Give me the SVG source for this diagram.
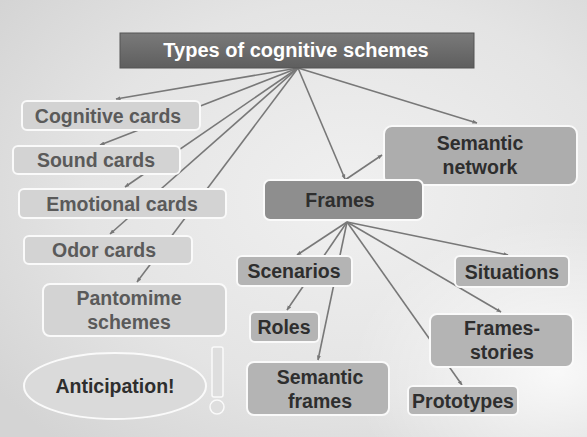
<svg xmlns="http://www.w3.org/2000/svg" width="587" height="437" viewBox="0 0 587 437">
<defs>
<radialGradient id="bg" cx="0.6" cy="0.45" r="0.75">
<stop offset="0" stop-color="#f0f0f0"/>
<stop offset="0.6" stop-color="#e4e4e4"/>
<stop offset="1" stop-color="#d4d4d4"/>
</radialGradient>
<radialGradient id="glow" cx="0.95" cy="0.85" r="0.35">
<stop offset="0" stop-color="#ffffff" stop-opacity="0.8"/>
<stop offset="1" stop-color="#ffffff" stop-opacity="0"/>
</radialGradient>
<linearGradient id="title" x1="0" y1="0" x2="0" y2="1">
<stop offset="0" stop-color="#7a7a7a"/>
<stop offset="1" stop-color="#5e5e5e"/>
</linearGradient>
<marker id="ah" viewBox="0 0 10 10" refX="9" refY="5" markerWidth="5" markerHeight="5" orient="auto" markerUnits="userSpaceOnUse">
<path d="M0,1 L10,5 L0,9 z" fill="#777"/>
</marker>
</defs>
<style>
.lt{font-family:"Liberation Sans",Arial,sans-serif;font-weight:bold;font-size:19.5px;fill:#5a5a5a;text-anchor:middle}
.dk{font-family:"Liberation Sans",Arial,sans-serif;font-weight:bold;font-size:19.5px;fill:#2e2e2e;text-anchor:middle}
.lb{fill:#d3d3d3;stroke:#fafafa;stroke-width:2}
.mb{fill:#b4b4b4;stroke:#fafafa;stroke-width:2}
.cn line{stroke:#787878;stroke-width:1.6;marker-end:url(#ah)}
</style>
<rect width="587" height="437" fill="url(#bg)"/>
<rect width="587" height="437" fill="url(#glow)"/>

<g class="cn" id="connectors">
<line x1="298" y1="68" x2="116" y2="99"/>
<line x1="298" y1="68" x2="100" y2="145"/>
<line x1="298" y1="68" x2="125" y2="187"/>
<line x1="298" y1="68" x2="110" y2="234"/>
<line x1="298" y1="68" x2="137" y2="282"/>
<line x1="298" y1="68" x2="345" y2="179"/>
<line x1="298" y1="68" x2="477" y2="123"/>
<line x1="345" y1="180" x2="382" y2="155"/>
<line x1="347" y1="222" x2="297" y2="255"/>
<line x1="347" y1="222" x2="287" y2="310"/>
<line x1="347" y1="222" x2="318" y2="360"/>
<line x1="347" y1="222" x2="508" y2="255"/>
<line x1="347" y1="222" x2="501" y2="312"/>
<line x1="347" y1="222" x2="462" y2="385"/>
</g>

<g id="title-node">
<rect x="120" y="33" width="354" height="35" fill="url(#title)" stroke="#555" stroke-width="1"/>
<text x="296" y="57" class="lt" style="fill:#ffffff;font-size:20px">Types of cognitive schemes</text>
</g>

<g id="cognitive-cards">
<rect x="22" y="101" width="178" height="29" rx="5" class="lb"/>
<text x="108" y="123" class="lt">Cognitive cards</text>
</g>
<g id="sound-cards">
<rect x="13" y="146" width="167" height="28" rx="5" class="lb"/>
<text x="96" y="167" class="lt">Sound cards</text>
</g>
<g id="emotional-cards">
<rect x="19" y="189" width="207" height="29" rx="5" class="lb"/>
<text x="122" y="211" class="lt">Emotional cards</text>
</g>
<g id="odor-cards">
<rect x="24" y="236" width="168" height="28" rx="5" class="lb"/>
<text x="104" y="257" class="lt">Odor cards</text>
</g>
<g id="pantomime-schemes">
<rect x="43" y="284" width="183" height="52" rx="7" class="lb"/>
<text x="129" y="305" class="lt">Pantomime</text>
<text x="129" y="329" class="lt">schemes</text>
</g>
<g id="anticipation">
<ellipse cx="115" cy="386" rx="91" ry="33" fill="#dadada" stroke="#fafafa" stroke-width="2"/>
<text x="115" y="393" class="dk">Anticipation!</text>
</g>
<g id="exclamation">
<rect x="212" y="347" width="11" height="50" rx="2" fill="#dedede" stroke="#fafafa" stroke-width="1.5"/>
<circle cx="217" cy="407" r="7" fill="#dedede" stroke="#fafafa" stroke-width="1.5"/>
</g>

<g id="semantic-network">
<rect x="384" y="126" width="193" height="59" rx="8" fill="#adadad" stroke="#fafafa" stroke-width="2"/>
<text x="480" y="150" class="dk">Semantic</text>
<text x="480" y="174" class="dk">network</text>
</g>
<g id="frames">
<rect x="264" y="180" width="159" height="40" rx="6" fill="#8e8e8e" stroke="#fafafa" stroke-width="2"/>
<text x="340" y="207" class="dk">Frames</text>
</g>
<g id="scenarios">
<rect x="237" y="256" width="115" height="30" rx="5" class="mb"/>
<text x="294" y="278" class="dk">Scenarios</text>
</g>
<g id="situations">
<rect x="455" y="256" width="114" height="31" rx="5" class="mb"/>
<text x="512" y="279" class="dk">Situations</text>
</g>
<g id="roles">
<rect x="250" y="312" width="69" height="30" rx="5" class="mb"/>
<text x="284" y="334" class="dk">Roles</text>
</g>
<g id="frames-stories">
<rect x="430" y="314" width="143" height="53" rx="7" class="mb"/>
<text x="502" y="335" class="dk">Frames-</text>
<text x="502" y="359" class="dk">stories</text>
</g>
<g id="semantic-frames">
<rect x="247" y="362" width="142" height="53" rx="7" class="mb"/>
<text x="320" y="384" class="dk">Semantic</text>
<text x="320" y="408" class="dk">frames</text>
</g>
<g id="prototypes">
<rect x="408" y="386" width="110" height="29" rx="5" class="mb"/>
<text x="463" y="408" class="dk">Prototypes</text>
</g>
</svg>
